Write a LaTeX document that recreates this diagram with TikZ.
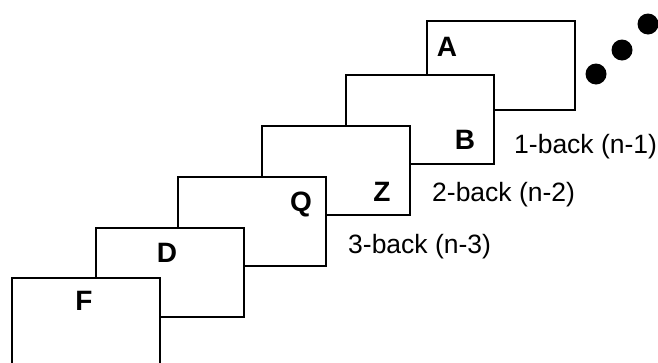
\documentclass[tikz,border=0pt]{standalone}
\usepackage{fontspec}
\setmainfont{Liberation Sans}
\begin{document}
\begin{tikzpicture}[x=1pt,y=-1pt,
  card/.style={draw=black, fill=white, line width=2.8pt, minimum width=148pt, minimum height=89pt, inner sep=0pt, outer sep=0pt, anchor=north west},
  letter/.style={font=\fontsize{28}{32}\selectfont\bfseries, inner sep=0pt},
  lbl/.style={font=\fontsize{26.5}{30}\selectfont, inner sep=0pt, anchor=west},
  bigdot/.style={circle, fill=black, minimum size=21pt, inner sep=0pt}]
\useasboundingbox (0,0) rectangle (658,362);
\clip (0,0) rectangle (658,362);
\node[card] (cA) at (427,21) {};
\node[card] (cB) at (346,75) {};
\node[card] (cZ) at (262,126) {};
\node[card] (cQ) at (178,177) {};
\node[card] (cD) at (96,228) {};
\node[card] (cF) at (12,278) {};
\node[letter] (tA) at (447,47) {A};
\node[letter] (tB) at (465,140) {B};
\node[letter] (tZ) at (382,192) {Z};
\node[letter] (tQ) at (301,204) {Q};
\node[letter] (tD) at (167,253) {D};
\node[letter] (tF) at (84,301) {F};
\node[lbl] (l1) at (514,147) {1-back (n-1)};
\node[lbl] (l2) at (432,195) {2-back (n-2)};
\node[lbl] (l3) at (348,247) {3-back (n-3)};
\node[bigdot] (d1) at (596,74) {};
\node[bigdot] (d2) at (622,50) {};
\node[bigdot] (d3) at (648,24) {};
\end{tikzpicture}
\end{document}
